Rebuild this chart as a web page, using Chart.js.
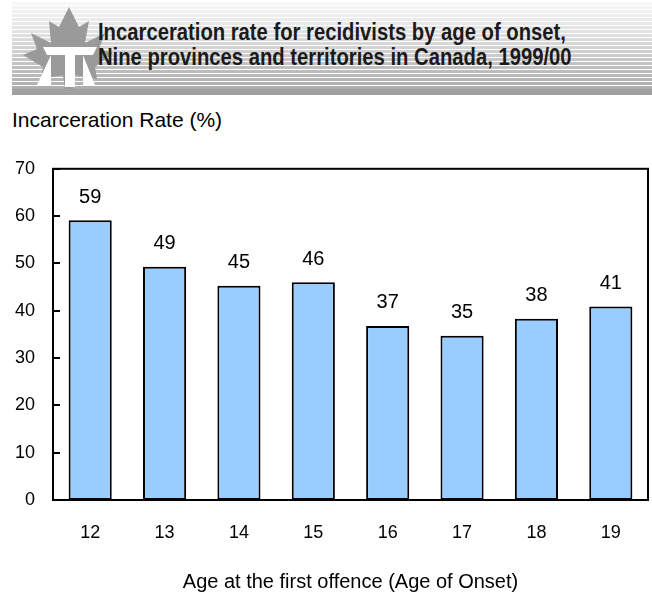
<!DOCTYPE html>
<html>
<head>
<meta charset="utf-8">
<script src="https://cdn.jsdelivr.net/npm/chart.js@4.4.0/dist/chart.umd.min.js"></script>
<style>
  body { margin: 0; background: #fff; width: 652px; height: 598px; overflow: hidden; position: relative; font-family: "Liberation Sans", Arial, sans-serif; }
  #banner {
    position: absolute; left: 12px; top: 2px; width: 640px; height: 93px;
    background:
      repeating-linear-gradient(to bottom, rgba(255,255,255,0) 0px, rgba(255,255,255,0) 3px, #fff 3px, #fff 4px),
      linear-gradient(to bottom, #f8f8f8 0%, #e0e0e0 35%, #c0c0c0 70%, #a8a8a8 100%);
  }
  #banner .base { position: absolute; left: 0; bottom: 0; width: 100%; height: 6px; background: #a0a0a0; }
  #leaf { position: absolute; left: 17px; top: 5px; }
  #title {
    position: absolute; left: 98px; top: 20px; white-space: nowrap;
    font-family: "Liberation Sans Narrow", "Arial Narrow", sans-serif; font-weight: bold;
    font-size: 23px; line-height: 25px; color: #1a1a1a;
    transform: scaleX(0.88); transform-origin: left top;
  }
  #ytitle { position: absolute; left: 12px; top: 108px; font-size: 21px; color: #000; }
  #wrap { position: absolute; left: 0; top: 140px; }
</style>
</head>
<body>
<div id="banner"><div class="base"></div></div>
<svg id="leaf" width="100" height="85" viewBox="0 0 100 85">
  <polygon fill="#9a9a9a" points="52,2 62,22 72,16 68,38 88,28 82,44 96,48 78,62 80,74 58,70 56,84 48,84 46,70 24,74 26,62 6,50 20,44 14,28 34,38 32,16 42,22"/>
  <polygon fill="#fff" points="20,80 34,50 34,80"/>
  <polygon fill="#fff" points="78,80 66,50 66,80"/>
  <polygon fill="#fff" points="26,42 80,42 76,50 58,50 58,82 48,82 48,50 30,50"/>
</svg>
<div id="title">Incarceration rate for recidivists by age of onset,<br>Nine provinces and territories in Canada, 1999/00</div>
<div id="ytitle">Incarceration Rate (%)</div>
<div id="wrap"><canvas id="chart" width="652" height="458"></canvas></div>
<script>
const ages = ['12', '13', '14', '15', '16', '17', '18', '19'];
const rates = [59.1, 49.3, 45.3, 46.0, 36.8, 34.7, 38.3, 40.9];
const rateLabels = ['59', '49', '45', '46', '37', '35', '38', '41'];
const yTicks = [0, 10, 20, 30, 40, 50, 60, 70];

// values above the bars
const valueLabels = {
  id: 'valueLabels',
  afterDatasetsDraw(chart) {
    const ctx = chart.ctx;
    const meta = chart.getDatasetMeta(0);
    ctx.save();
    ctx.font = '20px "Liberation Sans", Arial, sans-serif';
    ctx.fillStyle = '#000';
    ctx.textAlign = 'center';
    ctx.textBaseline = 'middle';
    meta.data.forEach((bar, i) => {
      ctx.fillText(rateLabels[i], bar.x, bar.y - 23);
    });
    ctx.restore();
  }
};

// box around plot + inward ticks on y axis
const plotBox = {
  id: 'plotBox',
  afterDraw(chart) {
    const { ctx, chartArea } = chart;
    const y = chart.scales.y;
    ctx.save();
    ctx.strokeStyle = '#000';
    ctx.lineWidth = 2;
    ctx.strokeRect(chartArea.left, chartArea.top, chartArea.right - chartArea.left, chartArea.bottom - chartArea.top);
    ctx.beginPath();
    yTicks.forEach(v => {
      const py = Math.round(y.getPixelForValue(v));
      ctx.moveTo(chartArea.left, py);
      ctx.lineTo(chartArea.left + 7, py);
    });
    ctx.stroke();
    ctx.restore();
  }
};

new Chart(document.getElementById('chart'), {
  type: 'bar',
  data: {
    labels: ages,
    datasets: [{
      data: rates,
      backgroundColor: '#99ccff',
      borderColor: '#000',
      borderWidth: 2,
      borderSkipped: false,
      categoryPercentage: 0.58,
      barPercentage: 1
    }]
  },
  options: {
    responsive: false,
    animation: false,
    events: [],
    layout: { padding: { left: 0, right: 4, top: 19, bottom: 0 } },
    plugins: { legend: { display: false }, tooltip: { enabled: false } },
    scales: {
      x: {
        grid: { display: false, drawTicks: false },
        border: { display: false },
        ticks: { color: '#000', padding: 22, font: { family: '"Liberation Sans Narrow", "Arial Narrow", sans-serif', size: 18 } },
        title: {
          display: true,
          text: 'Age at the first offence (Age of Onset)',
          color: '#000',
          font: { family: '"Liberation Sans", Arial, sans-serif', size: 20 },
          padding: { top: 0, bottom: 4 }
        },
        afterFit(scale) { scale.height = 98; }
      },
      y: {
        min: 0,
        max: 70,
        grid: { display: false, drawTicks: false },
        border: { display: false },
        ticks: { stepSize: 10, color: '#000', padding: 18, font: { family: '"Liberation Sans", Arial, sans-serif', size: 18 } },
        afterFit(scale) { scale.width = 53; }
      }
    }
  },
  plugins: [valueLabels, plotBox]
});
</script>
</body>
</html>
